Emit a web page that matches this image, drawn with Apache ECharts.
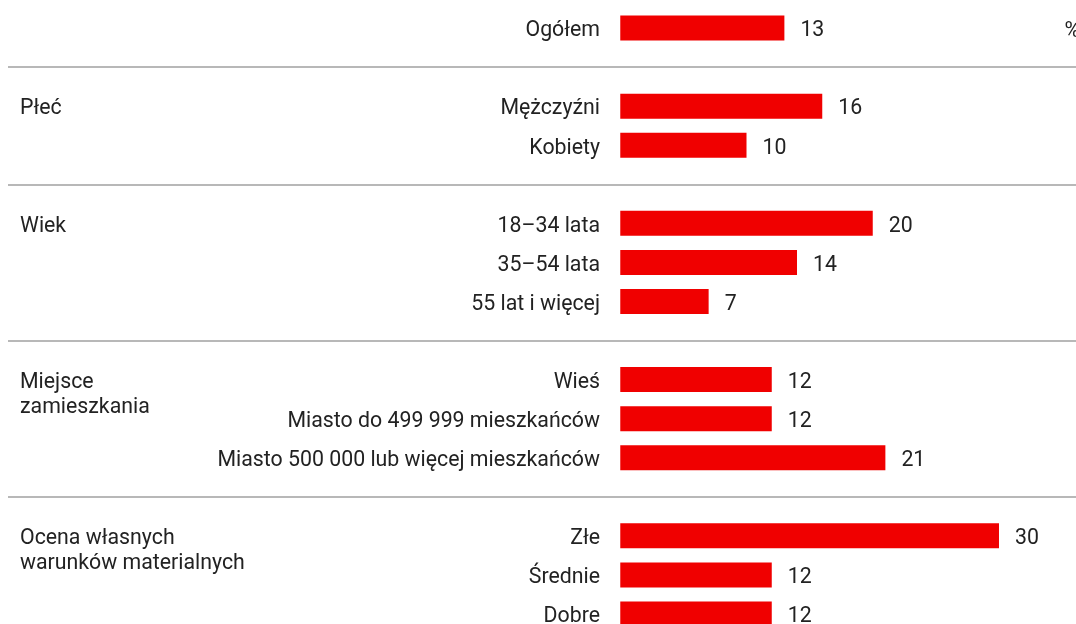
<!DOCTYPE html>
<html>
<head>
<meta charset="utf-8">
<script src="https://cdn.jsdelivr.net/npm/echarts@6/dist/echarts.min.js"></script>
<style>
  html, body { margin: 0; padding: 0; background: #fff; }
  #chart { width: 1076px; height: 624px; }
</style>
</head>
<body>
<div id="chart"></div>
<script>
// wiersze wykresu, '' = odstęp między grupami (tam idzie linia)
const categories = [
  'Ogółem', '',
  'Mężczyźni', 'Kobiety', '',
  '18–34 lata', '35–54 lata', '55 lat i więcej', '',
  'Wieś', 'Miasto do 499 999 mieszkańców', 'Miasto 500 000 lub więcej mieszkańców', '',
  'Złe', 'Średnie', 'Dobre'
];
const values = [13, null, 16, 10, null, 20, 14, 7, null, 12, 12, 21, null, 30, 12, 12];
// nazwy grup przy pierwszym wierszu grupy
const groupLabels = [
  '', '',
  'Płeć', '', '',
  'Wiek', '', '', '',
  'Miejsce\nzamieszkania', '', '', '',
  'Ocena własnych\nwarunków materialnych', '', ''
];
const separatorRows = [1, 4, 8, 12];
const unit = '%';

const red = '#f00000';
const textColor = '#222';
const fontSize = 21.3;

// pierwsza linia tekstu na wysokości wiersza, lekko niżej (jak w oryginale)
const rowText = (txt) => {
  if (!txt) return '';
  const lines = txt.split('\n');
  let out = '{s| }\n' + lines.map(l => '{t|' + l + '}').join('\n');
  if (lines.length === 1) out += '\n{t| }';
  return out;
};
const richStyle = {
  s: { lineHeight: 31, fontSize: fontSize, fontFamily: 'Roboto' },
  t: { lineHeight: 25, fontSize: fontSize, fontFamily: 'Roboto', color: textColor }
};

const chart = echarts.init(document.getElementById('chart'));

chart.setOption({
  animation: false,
  title: {
    text: unit,
    right: -9,
    top: 16,
    textStyle: { fontFamily: 'Roboto', fontSize: fontSize, fontWeight: 'normal', color: textColor }
  },
  grid: {
    left: 8,
    right: 0,
    top: 8.5,
    height: 625,
    outerBoundsMode: 'none',
    containLabel: false
  },
  xAxis: {
    type: 'value',
    min: -48.5,
    max: 36.1,
    show: false
  },
  yAxis: [
    {
      type: 'category',
      inverse: true,
      position: 'left',
      data: categories,
      axisLine: { show: false, onZero: false },
      axisTick: { show: false },
      splitLine: { show: false },
      axisLabel: {
        // etykiety kończą się tuż przed słupkami (x = 0)
        margin: -592,
        hideOverlap: false,
        showMinLabel: true,
        showMaxLabel: true,
        interval: 0,
        fontFamily: 'Roboto',
        fontSize: fontSize,
        color: textColor,
        formatter: (value) => rowText(value),
        rich: richStyle
      }
    },
    {
      type: 'category',
      inverse: true,
      position: 'left',
      data: categories,
      axisLine: { show: false, onZero: false },
      axisTick: { show: false },
      splitLine: { show: false },
      axisLabel: {
        margin: -12,
        align: 'left',
        interval: 0,
        fontFamily: 'Roboto',
        fontSize: fontSize,
        color: textColor,
        formatter: (value, index) => rowText(groupLabels[index]),
        rich: richStyle
      }
    }
  ],
  series: [
    {
      type: 'bar',
      yAxisIndex: 0,
      data: values,
      barWidth: 25,
      itemStyle: { color: red },
      label: {
        show: true,
        position: 'right',
        distance: 16,
        offset: [0, 3],
        fontFamily: 'Roboto',
        fontSize: fontSize,
        color: textColor
      },
      markLine: {
        silent: true,
        symbol: 'none',
        label: { show: false },
        lineStyle: { color: '#a0a0a0', width: 1.5, type: 'solid' },
        data: separatorRows.map(r => ({ yAxis: r }))
      }
    }
  ]
});
</script>
</body>
</html>
